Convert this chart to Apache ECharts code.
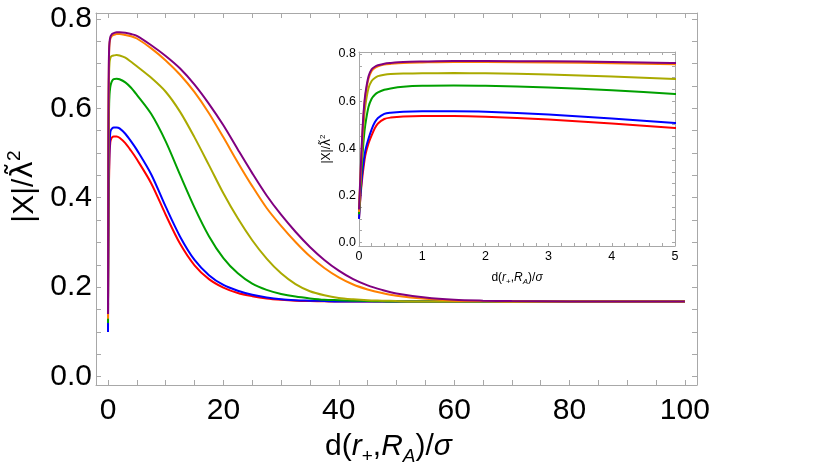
<!DOCTYPE html>
<html><head><meta charset="utf-8">
<script src="https://cdn.jsdelivr.net/npm/echarts@6/dist/echarts.min.js"></script>
<style>html,body{margin:0;padding:0;background:#fff}#c{width:830px;height:465px}</style>
</head><body><div id="c"></div>
<script>
// ---------- data ----------
const xs = [0,0.025,0.05,0.075,0.1,0.15,0.2,0.25,0.3,0.4,0.5,0.7,1,1.5,2,3,4,5,
  7.5,10,12.5,15,17.5,20,22.5,25,27.5,30,32.5,35,37.5,40,42.5,45,47.5,50,55,60,65,70,80,90,100];
const red = [0.10,0.20,0.27,0.325,0.37,0.42,0.455,0.485,0.505,0.524,0.530,0.535,0.537,0.537,0.534,0.522,0.505,0.486,
  0.432,0.362,0.297,0.249,0.218,0.199,0.187,0.180,0.175,0.172,0.170,0.169,0.1685,0.168,0.168,0.168,0.168,0.168,0.168,0.168,0.168,0.168,0.168,0.168,0.168];
const blue = [0.10,0.21,0.29,0.345,0.39,0.44,0.48,0.51,0.528,0.546,0.551,0.555,0.557,0.557,0.555,0.543,0.526,0.507,
  0.452,0.380,0.313,0.261,0.227,0.205,0.192,0.183,0.177,0.173,0.171,0.170,0.169,0.168,0.168,0.168,0.168,0.168,0.168,0.168,0.168,0.168,0.168,0.168,0.168];
const green = [0.12,0.24,0.35,0.44,0.50,0.575,0.61,0.627,0.637,0.648,0.654,0.661,0.665,0.666,0.665,0.658,0.646,0.630,
  0.587,0.526,0.451,0.378,0.314,0.265,0.231,0.208,0.194,0.185,0.179,0.175,0.172,0.171,0.170,0.169,0.1685,0.168,0.168,0.168,0.168,0.168,0.168,0.168,0.168];
const olive = [0.13,0.27,0.40,0.51,0.58,0.655,0.685,0.698,0.706,0.712,0.715,0.717,0.718,0.719,0.718,0.713,0.704,0.694,
  0.668,0.637,0.592,0.535,0.473,0.410,0.354,0.305,0.264,0.231,0.207,0.191,0.182,0.176,0.173,0.171,0.170,0.169,0.168,0.168,0.168,0.168,0.168,0.168,0.168];
const orange = [0.13,0.29,0.44,0.55,0.62,0.695,0.728,0.741,0.748,0.755,0.758,0.762,0.764,0.766,0.766,0.764,0.761,0.756,
  0.734,0.707,0.675,0.636,0.589,0.535,0.479,0.426,0.377,0.337,0.301,0.269,0.243,0.222,0.206,0.195,0.187,0.181,0.174,0.170,0.169,0.168,0.168,0.168,0.168];
const purple = [0.14,0.30,0.45,0.56,0.63,0.705,0.735,0.746,0.752,0.759,0.762,0.766,0.768,0.770,0.770,0.769,0.766,0.762,
  0.741,0.717,0.689,0.653,0.610,0.562,0.508,0.455,0.405,0.362,0.324,0.290,0.261,0.237,0.218,0.204,0.194,0.186,0.177,0.172,0.170,0.169,0.168,0.168,0.168];

const seriesNames = ['red','blue','green','olive','orange','purple'];
const seriesColors = ['#ff0000','#0000ff','#00a000','#aaaa00','#ff8000','#800080'];

// tick labels and tick positions
const mainXLabels = [0,20,40,60,80,100];
const mainXTicks = [0,5,10,15,20,25,30,35,40,45,50,55,60,65,70,75,80,85,90,95,100];
const mainYLabels = [0,0.2,0.4,0.6,0.8];
const mainYTicks = [0,0.05,0.1,0.15,0.2,0.25,0.3,0.35,0.4,0.45,0.5,0.55,0.6,0.65,0.7,0.75,0.8];
const insetXLabels = [0,1,2,3,4,5];
const insetXTicks = [0,0.2,0.4,0.6,0.8,1,1.2,1.4,1.6,1.8,2,2.2,2.4,2.6,2.8,3,3.2,3.4,3.6,3.8,4,4.2,4.4,4.6,4.8,5];
const insetYLabels = [0,0.2,0.4,0.6,0.8];
const insetYTicks = [0,0.05,0.1,0.15,0.2,0.25,0.3,0.35,0.4,0.45,0.5,0.55,0.6,0.65,0.7,0.75,0.8];

// ---------- chart ----------
const FONT = '"Liberation Sans", Arial, sans-serif';
const FRAME = '#a8a8a8';
const ys = [red, blue, green, olive, orange, purple];
const pairs = ys.map(arr => xs.map((x, i) => [x, arr[i]]));

function rich(size, lh) {
  const s = Math.round(size * 0.64);
  return {
    n: {fontSize: size, fontFamily: FONT, color: '#000', lineHeight: lh},
    l: {fontSize: size, fontFamily: '"DejaVu Sans", sans-serif', color: '#000', lineHeight: lh},
    i: {fontSize: size, fontFamily: FONT, fontStyle: 'italic', color: '#000', lineHeight: lh},
    sub: {fontSize: s, fontFamily: FONT, color: '#000', lineHeight: s, verticalAlign: 'bottom'},
    subi: {fontSize: s, fontFamily: FONT, fontStyle: 'italic', color: '#000', lineHeight: s, verticalAlign: 'bottom'},
    sup: {fontSize: s, fontFamily: FONT, color: '#000', lineHeight: s, verticalAlign: 'top'}
  };
}
const xTitle = '{n|d(}{i|r}{sub|+}{n|,}{i|R}{subi|A}{n|)/}{i|σ}';
const yTitle = '{n||X|/}{l|λ\u0303}{sup|2}';

function axis(kind, grid, pos, min, max, ticks, len, z, opts) {
  opts = opts || {};
  const a = {
    type: 'value', gridIndex: grid, position: pos, min: min, max: max, z: z,
    axisLine: {show: true, onZero: false, lineStyle: {color: FRAME, width: 1}},
    splitLine: {show: false},
    axisTick: {show: true, inside: true, length: len, customValues: ticks,
      lineStyle: {color: FRAME, width: 1}},
    axisLabel: {show: false}
  };
  if (opts.labels) {
    a.axisLabel = {show: true, customValues: opts.labels, fontSize: opts.fontSize,
      fontFamily: FONT, color: '#000', margin: opts.margin,
      formatter: opts.fmt};
  }
  if (opts.name) {
    a.name = opts.name; a.nameLocation = 'middle'; a.nameGap = opts.nameGap;
    a.nameTextStyle = {rich: rich(opts.nameSize, opts.nameLH), padding: opts.namePad || 0};
    if (kind === 'y') a.nameRotate = 90;
  }
  return a;
}
const f1 = v => v.toFixed(1);
const f0 = v => String(Math.round(v));

const MX = [-2.08, 102.1], MY = [-0.0186, 0.813];
const IX = [0, 5], IY = [-0.015, 0.8085];

const xAxis = [
  axis('x', 0, 'bottom', MX[0], MX[1], mainXTicks, 5, 5, {labels: mainXLabels, fontSize: 30, margin: 11, fmt: f0,
    name: xTitle, nameGap: 43, nameSize: 30, nameLH: 38, namePad: [0, 16, 0, 0]}),
  axis('x', 0, 'top', MX[0], MX[1], mainXTicks, 5, 5),
  axis('x', 1, 'bottom', IX[0], IX[1], insetXTicks, 3, 15, {labels: insetXLabels, fontSize: 12.5, margin: 4, fmt: f0,
    name: xTitle, nameGap: 24, nameSize: 12, nameLH: 16}),
  axis('x', 1, 'top', IX[0], IX[1], insetXTicks, 3, 15)
];
const yAxis = [
  axis('y', 0, 'left', MY[0], MY[1], mainYTicks, 5, 5, {labels: mainYLabels, fontSize: 30, margin: 4, fmt: f1,
    name: yTitle, nameGap: 50, nameSize: 30, nameLH: 38, namePad: [0, 0, 0, 25]}),
  axis('y', 0, 'right', MY[0], MY[1], mainYTicks, 5, 5),
  axis('y', 1, 'left', IY[0], IY[1], insetYTicks, 3, 15, {labels: insetYLabels, fontSize: 12.5, margin: 3, fmt: f1,
    name: yTitle, nameGap: 24, nameSize: 12, nameLH: 16}),
  axis('y', 1, 'right', IY[0], IY[1], insetYTicks, 3, 15)
];

const series = [];
pairs.forEach((d, k) => {
  series.push({type: 'line', name: seriesNames[k], xAxisIndex: 0, yAxisIndex: 0, data: d,
    showSymbol: false, smooth: 0.3, clip: true, silent: true,
    lineStyle: {color: seriesColors[k], width: 2}, z: 2 + k});
});
pairs.forEach((d, k) => {
  series.push({type: 'line', name: seriesNames[k] + '-inset', xAxisIndex: 2, yAxisIndex: 2, data: d,
    showSymbol: false, smooth: 0.3, clip: true, silent: true,
    lineStyle: {color: seriesColors[k], width: 2}, z: 20 + k});
});

const chart = echarts.init(document.getElementById('c'), null, {renderer: 'canvas'});
chart.setOption({
  animation: false,
  backgroundColor: '#fff',
  grid: [
    {left: 96, top: 13, width: 601, height: 372, show: false, containLabel: false, outerBoundsMode: 'none'},
    {left: 359, top: 52, width: 316, height: 194, show: true, borderWidth: 0, backgroundColor: '#fff', z: 10,
     containLabel: false, outerBoundsMode: 'none'}
  ],
  xAxis: xAxis,
  yAxis: yAxis,
  series: series
});
</script></body></html>
